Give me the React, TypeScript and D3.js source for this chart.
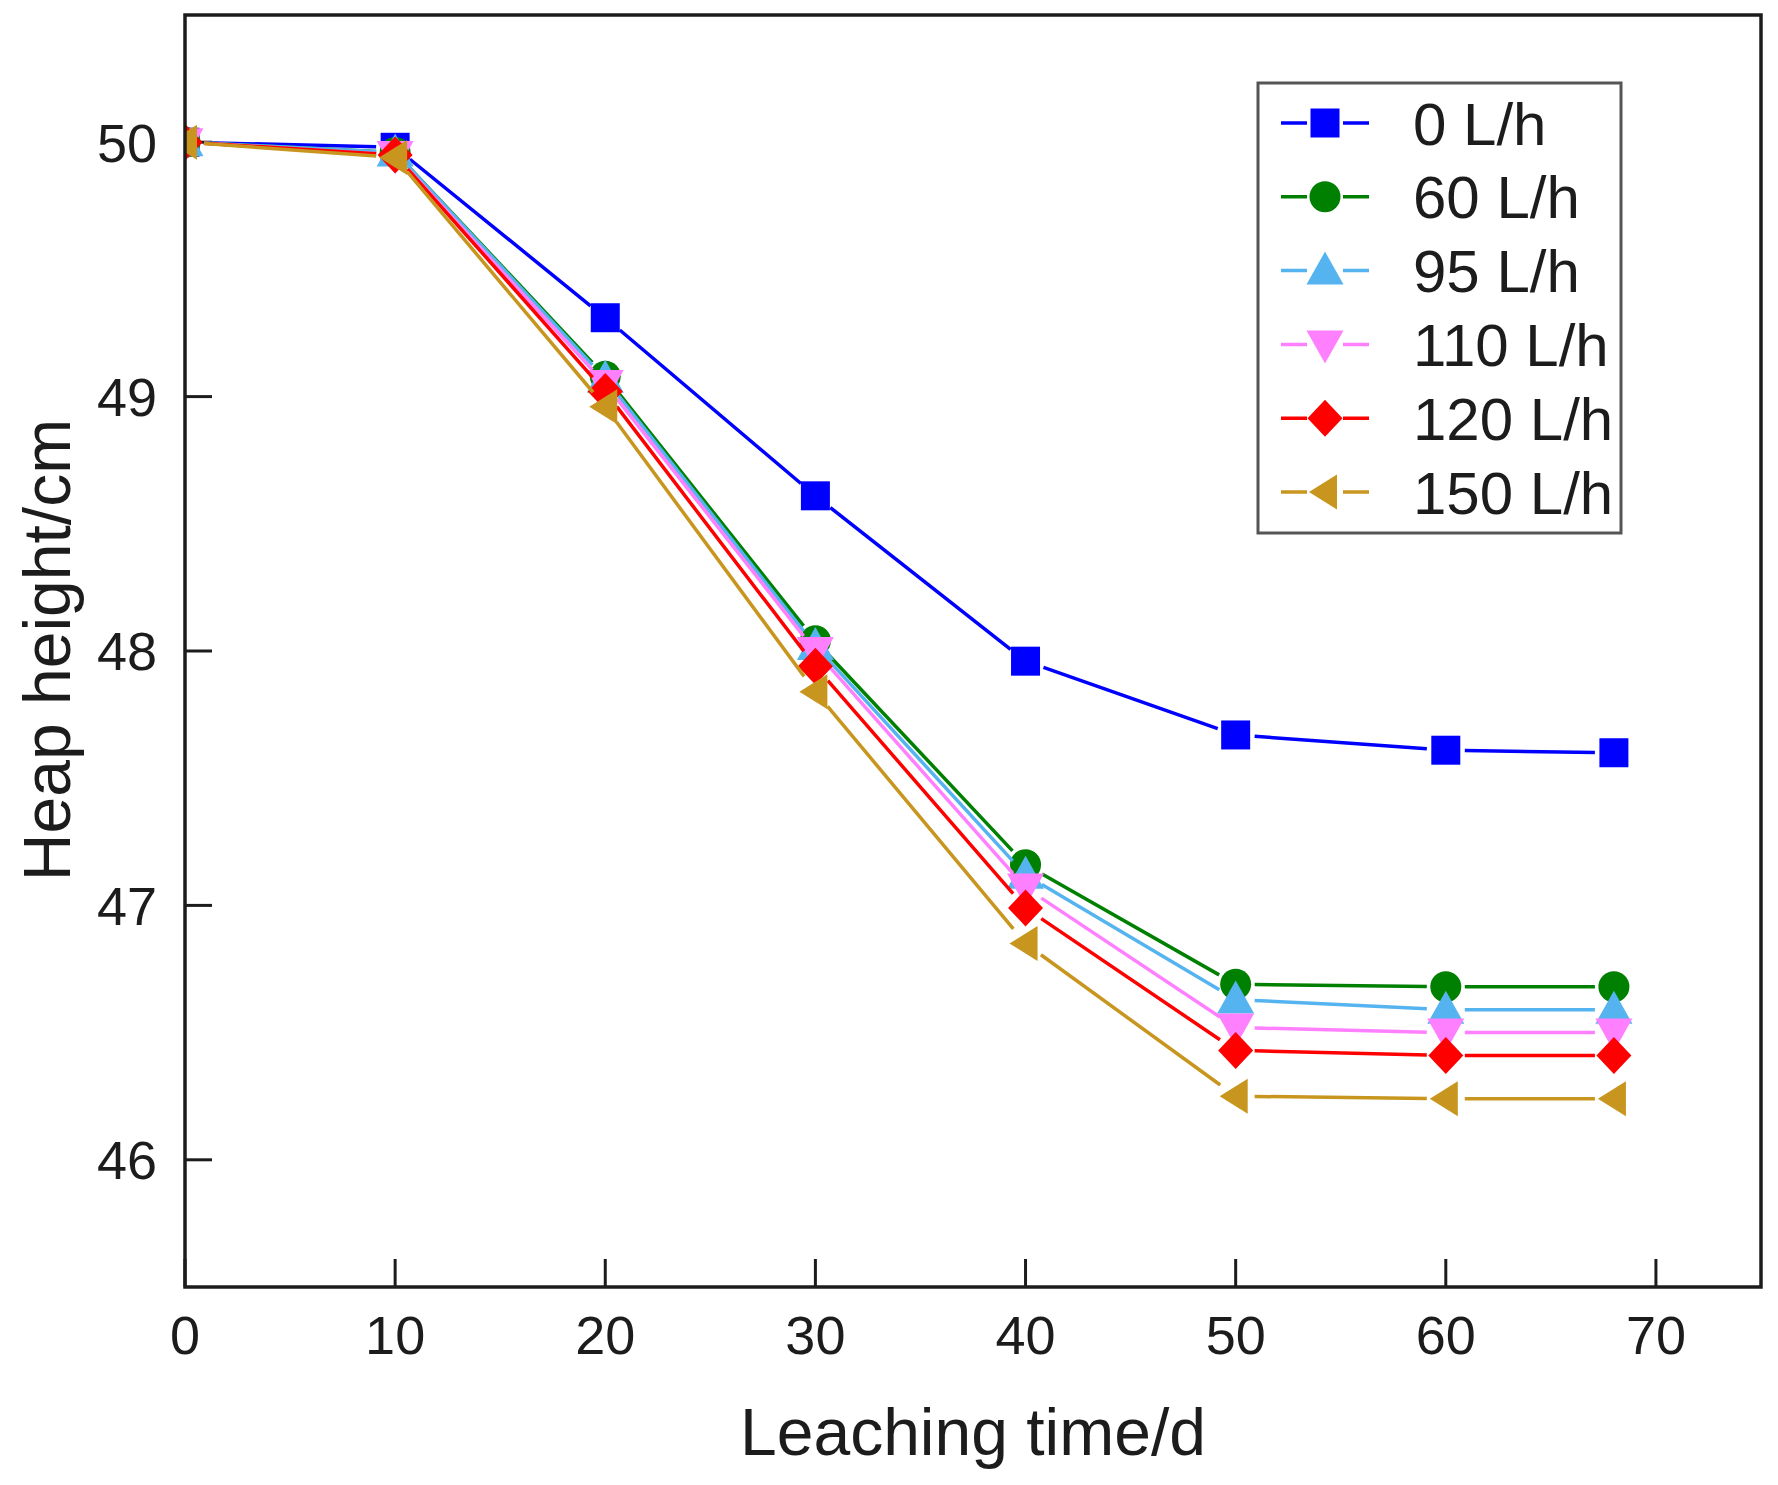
import { useEffect } from 'react';
import * as d3 from 'd3';

// Leaching time (d) at each measurement
const days = [0, 10, 20, 30, 40, 50, 60, 68];

// Heap height (cm) per spray intensity
const height0 = [50, 49.98, 49.31, 48.61, 47.96, 47.67, 47.61, 47.6];
const height60 = [50, 49.96, 49.08, 48.04, 47.16, 46.69, 46.68, 46.68];
const height95 = [50, 49.96, 49.07, 48.02, 47.12, 46.63, 46.59, 46.59];
const height110 = [50, 49.95, 49.05, 48.0, 47.07, 46.52, 46.5, 46.5];
const height120 = [50, 49.95, 49.02, 47.94, 46.99, 46.43, 46.41, 46.41];
const height150 = [50, 49.94, 48.96, 47.84, 46.85, 46.25, 46.24, 46.24];

const seriesNames = ['0 L/h', '60 L/h', '95 L/h', '110 L/h', '120 L/h', '150 L/h'];
const seriesValues = [height0, height60, height95, height110, height120, height150];

const xTicks = [0, 10, 20, 30, 40, 50, 60, 70];
const yTicks = [46, 47, 48, 49, 50];

const colors = ['#0000ff', '#008000', '#55b4f0', '#ff80ff', '#ff0000', '#c8961e'];
const shapes = ['square', 'circle', 'triangle', 'triangleDown', 'diamond', 'triangleLeft'];

const W = 1778;
const H = 1485;
const margin = { top: 15, right: 17, bottom: 198, left: 185 };
const FONT = "'Liberation Sans', Arial, sans-serif";
const INK = '#1c1c1c';

function markerPath(shape: string): string {
    switch (shape) {
        case 'square':
            return 'M-14.5,-14.5H14.5V14.5H-14.5Z';
        case 'circle':
            return d3.symbol(d3.symbolCircle, Math.PI * 15.5 * 15.5)() || '';
        case 'triangle':
            return 'M0,-19L18.5,14L-18.5,14Z';
        case 'triangleDown':
            return 'M0,19L18.5,-14L-18.5,-14Z';
        case 'diamond':
            return 'M0,-18.5L17.5,0L0,18.5L-17.5,0Z';
        case 'triangleLeft':
            return 'M-16,0L12,-17.5L12,17.5Z';
        default:
            return '';
    }
}

// Origin style: line segments stop short of each marker
function gappedSegments(points: [number, number][], gap: number): string {
    let d = '';
    for (let i = 0; i < points.length - 1; i++) {
        const [x1, y1] = points[i];
        const [x2, y2] = points[i + 1];
        const len = Math.hypot(x2 - x1, y2 - y1);
        if (len <= gap * 2) continue;
        const ux = (x2 - x1) / len;
        const uy = (y2 - y1) / len;
        d += `M${x1 + ux * gap},${y1 + uy * gap}L${x2 - ux * gap},${y2 - uy * gap}`;
    }
    return d;
}

export default function App() {
    useEffect(() => {
        document.body.style.margin = '0';
    }, []);

    const innerW = W - margin.left - margin.right;
    const innerH = H - margin.top - margin.bottom;

    const x = d3.scaleLinear().domain([0, 75]).range([margin.left, margin.left + innerW]);
    const y = d3.scaleLinear().domain([45.5, 50.5]).range([margin.top + innerH, margin.top]);

    const bottom = margin.top + innerH;
    const right = margin.left + innerW;

    const legend = { x: 1258, y: 83, w: 363, h: 450, rowTop: 123, rowStep: 73.8 };

    return (
        <svg width={W} height={H} style={{ display: 'block', background: '#fff' }} fontFamily={FONT}>
            <defs>
                <clipPath id="plot-area">
                    <rect x={margin.left} y={margin.top} width={innerW} height={innerH} />
                </clipPath>
            </defs>

            {/* ticks, pointing inward */}
            {yTicks.map(t => (
                <g key={`y${t}`}>
                    <line x1={margin.left} x2={margin.left + 27} y1={y(t)} y2={y(t)} stroke={INK} strokeWidth={3} />
                    <text x={157} y={y(t)} dy="0.36em" textAnchor="end" fontSize={54} fill={INK}>{t}</text>
                </g>
            ))}
            {xTicks.map(t => (
                <g key={`x${t}`}>
                    <line x1={x(t)} x2={x(t)} y1={bottom} y2={bottom - 28} stroke={INK} strokeWidth={3} />
                    <text x={x(t)} y={1354} textAnchor="middle" fontSize={54} fill={INK}>{t}</text>
                </g>
            ))}

            {/* data */}
            <g clipPath="url(#plot-area)">
                {seriesValues.map((vals, i) => {
                    const pts: [number, number][] = days.map((d, j) => [x(d), y(vals[j])]);
                    return (
                        <g key={seriesNames[i]}>
                            <path d={gappedSegments(pts, 19)} fill="none" stroke={colors[i]} strokeWidth={3.5} />
                            {pts.map(([px, py], j) => (
                                <path key={j} d={markerPath(shapes[i])} transform={`translate(${px},${py})`} fill={colors[i]} />
                            ))}
                        </g>
                    );
                })}
            </g>

            {/* frame */}
            <rect x={margin.left} y={margin.top} width={innerW} height={innerH} fill="none" stroke={INK} strokeWidth={3.5} />

            {/* legend */}
            <rect x={legend.x} y={legend.y} width={legend.w} height={legend.h} fill="#fff" stroke="#555" strokeWidth={3} />
            {seriesNames.map((name, i) => {
                const ry = legend.rowTop + i * legend.rowStep;
                const pts: [number, number][] = [[1263, ry], [1325, ry], [1387, ry]];
                return (
                    <g key={name}>
                        <path d={gappedSegments(pts, 18)} stroke={colors[i]} strokeWidth={3.5} fill="none" />
                        <path d={markerPath(shapes[i])} transform={`translate(1325,${ry})`} fill={colors[i]} />
                        <text x={1413} y={ry} dy="0.36em" fontSize={60} fill={INK}>{name}</text>
                    </g>
                );
            })}

            {/* axis titles */}
            <text x={(margin.left + right) / 2} y={1455} textAnchor="middle" fontSize={66} fill={INK}>Leaching time/d</text>
            <text transform="translate(70,650) rotate(-90)" textAnchor="middle" fontSize={66} fill={INK}>Heap height/cm</text>
        </svg>
    );
}
